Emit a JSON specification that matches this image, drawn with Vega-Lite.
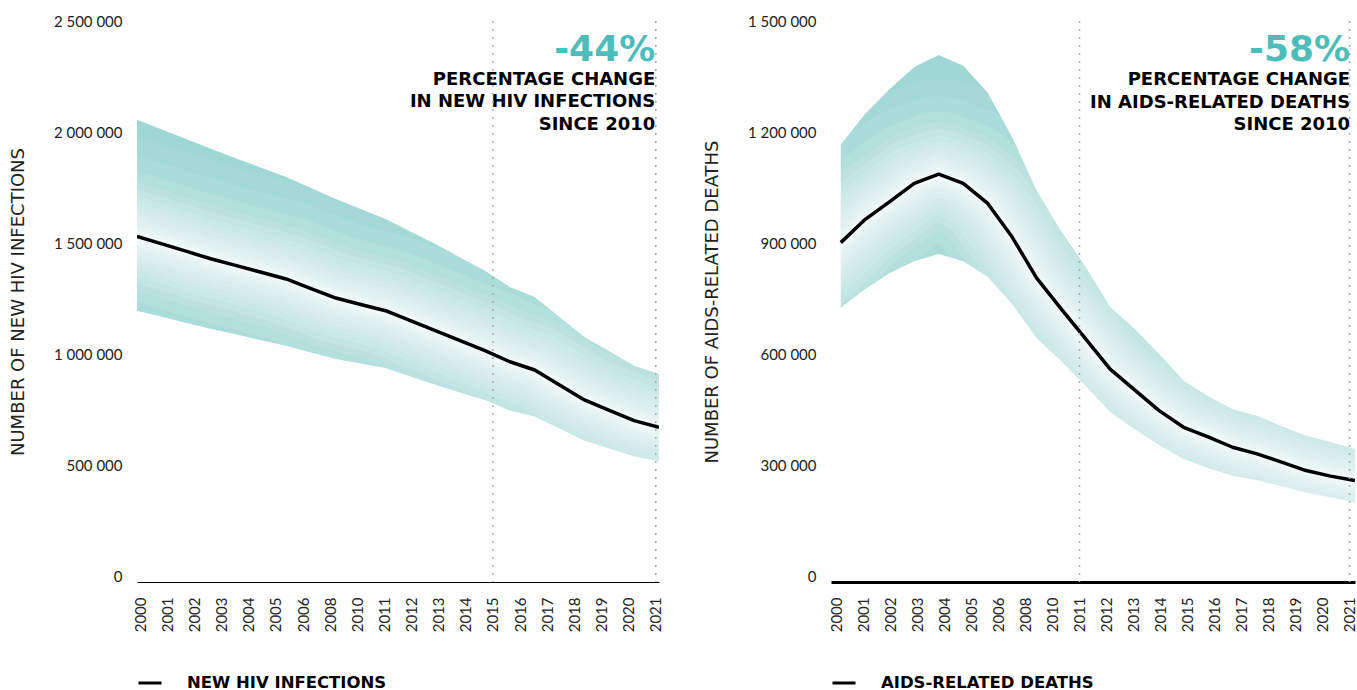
{
  "$schema": "https://vega.github.io/schema/vega-lite/v6.json",
  "padding": {"left": 9, "top": 14, "right": 0, "bottom": 0},
  "background": "white",
  "config": {
    "locale": {"number": {"decimal": ".", "thousands": " ", "grouping": [3], "currency": ["", ""]}},
    "view": {"stroke": null},
    "axis": {"labelFont": "Lato", "labelFontSize": 15, "labelColor": "#222", "titleFont": "DejaVu Sans", "titleFontWeight": "normal", "titleFontSize": 18, "titleColor": "#222", "grid": false, "ticks": false},
    "concat": {"spacing": 39}
  },
  "datasets": {
    "hiv": [
      {"year": 2000, "mid": 1530000, "low": 1195000, "high": 2055000, "series": "NEW HIV INFECTIONS"},
      {"year": 2001, "mid": 1496000, "low": 1168000, "high": 2011000, "series": "NEW HIV INFECTIONS"},
      {"year": 2002, "mid": 1462000, "low": 1140000, "high": 1967000, "series": "NEW HIV INFECTIONS"},
      {"year": 2003, "mid": 1428000, "low": 1113000, "high": 1923000, "series": "NEW HIV INFECTIONS"},
      {"year": 2004, "mid": 1398000, "low": 1088000, "high": 1881000, "series": "NEW HIV INFECTIONS"},
      {"year": 2005, "mid": 1368000, "low": 1062000, "high": 1839000, "series": "NEW HIV INFECTIONS"},
      {"year": 2006, "mid": 1338000, "low": 1037000, "high": 1797000, "series": "NEW HIV INFECTIONS"},
      {"year": 2007, "mid": 1295000, "low": 1007000, "high": 1748000, "series": "NEW HIV INFECTIONS"},
      {"year": 2008, "mid": 1252000, "low": 977000, "high": 1698000, "series": "NEW HIV INFECTIONS"},
      {"year": 2009, "mid": 1223000, "low": 957000, "high": 1653000, "series": "NEW HIV INFECTIONS"},
      {"year": 2010, "mid": 1195000, "low": 937000, "high": 1608000, "series": "NEW HIV INFECTIONS"},
      {"year": 2011, "mid": 1150000, "low": 899000, "high": 1552000, "series": "NEW HIV INFECTIONS"},
      {"year": 2012, "mid": 1105000, "low": 861000, "high": 1495000, "series": "NEW HIV INFECTIONS"},
      {"year": 2013, "mid": 1060000, "low": 827000, "high": 1435000, "series": "NEW HIV INFECTIONS"},
      {"year": 2014, "mid": 1015000, "low": 793000, "high": 1375000, "series": "NEW HIV INFECTIONS"},
      {"year": 2015, "mid": 965000, "low": 745000, "high": 1302000, "series": "NEW HIV INFECTIONS"},
      {"year": 2016, "mid": 928000, "low": 719000, "high": 1257000, "series": "NEW HIV INFECTIONS"},
      {"year": 2017, "mid": 860000, "low": 664000, "high": 1167000, "series": "NEW HIV INFECTIONS"},
      {"year": 2018, "mid": 793000, "low": 609000, "high": 1077000, "series": "NEW HIV INFECTIONS"},
      {"year": 2019, "mid": 746000, "low": 574000, "high": 1012000, "series": "NEW HIV INFECTIONS"},
      {"year": 2020, "mid": 700000, "low": 539000, "high": 947000, "series": "NEW HIV INFECTIONS"},
      {"year": 2021, "mid": 670000, "low": 517000, "high": 910000, "series": "NEW HIV INFECTIONS"}
    ],
    "deaths": [
      {"year": 2000, "mid": 901000, "low": 725000, "high": 1166000, "series": "AIDS-RELATED DEATHS"},
      {"year": 2001, "mid": 964000, "low": 776000, "high": 1249000, "series": "AIDS-RELATED DEATHS"},
      {"year": 2002, "mid": 1012000, "low": 819000, "high": 1316000, "series": "AIDS-RELATED DEATHS"},
      {"year": 2003, "mid": 1061000, "low": 851000, "high": 1376000, "series": "AIDS-RELATED DEATHS"},
      {"year": 2004, "mid": 1086000, "low": 870000, "high": 1408000, "series": "AIDS-RELATED DEATHS"},
      {"year": 2005, "mid": 1061000, "low": 851000, "high": 1379000, "series": "AIDS-RELATED DEATHS"},
      {"year": 2006, "mid": 1007000, "low": 809000, "high": 1306000, "series": "AIDS-RELATED DEATHS"},
      {"year": 2007, "mid": 916000, "low": 735000, "high": 1186000, "series": "AIDS-RELATED DEATHS"},
      {"year": 2008, "mid": 805000, "low": 643000, "high": 1041000, "series": "AIDS-RELATED DEATHS"},
      {"year": 2009, "mid": 722000, "low": 581000, "high": 932000, "series": "AIDS-RELATED DEATHS"},
      {"year": 2010, "mid": 641000, "low": 514000, "high": 835000, "series": "AIDS-RELATED DEATHS"},
      {"year": 2011, "mid": 559000, "low": 443000, "high": 727000, "series": "AIDS-RELATED DEATHS"},
      {"year": 2012, "mid": 503000, "low": 397000, "high": 668000, "series": "AIDS-RELATED DEATHS"},
      {"year": 2013, "mid": 447000, "low": 354000, "high": 600000, "series": "AIDS-RELATED DEATHS"},
      {"year": 2014, "mid": 402000, "low": 316000, "high": 528000, "series": "AIDS-RELATED DEATHS"},
      {"year": 2015, "mid": 376000, "low": 292000, "high": 486000, "series": "AIDS-RELATED DEATHS"},
      {"year": 2016, "mid": 348000, "low": 271000, "high": 451000, "series": "AIDS-RELATED DEATHS"},
      {"year": 2017, "mid": 330000, "low": 259000, "high": 433000, "series": "AIDS-RELATED DEATHS"},
      {"year": 2018, "mid": 308000, "low": 243000, "high": 405000, "series": "AIDS-RELATED DEATHS"},
      {"year": 2019, "mid": 285000, "low": 226000, "high": 379000, "series": "AIDS-RELATED DEATHS"},
      {"year": 2020, "mid": 270000, "low": 213000, "high": 362000, "series": "AIDS-RELATED DEATHS"},
      {"year": 2021, "mid": 258000, "low": 199000, "high": 343000, "series": "AIDS-RELATED DEATHS"}
    ]
  },
  "hconcat": [
    {
      "width": 522,
      "height": 561,
      "layer": [
        {
          "data": {"name": "hiv"},
          "layer": [
            {
              "mark": {"type": "area", "color": "#9fd7d5", "opacity": 1},
              "encoding": {
                "x": {"field": "year", "type": "quantitative", "scale": {"domain": [2000, 2021], "nice": false, "zero": false}, "axis": null},
                "y": {"field": "low", "type": "quantitative", "title": "NUMBER OF NEW HIV INFECTIONS", "scale": {"domain": [-27000, 2500000], "nice": false, "zero": false}, "axis": {"values": [0, 500000, 1000000, 1500000, 2000000, 2500000], "format": ",d", "domain": false, "labelPadding": 15, "titlePadding": 26}},
                "y2": {"field": "high"}
              }
            },
            {"mark": {"type": "line", "color": "white", "strokeWidth": 190, "opacity": 0.06, "strokeJoin": "round", "strokeCap": "square", "clip": true}, "encoding": {"x": {"field": "year", "type": "quantitative"}, "y": {"field": "mid", "type": "quantitative", "title": "NUMBER OF NEW HIV INFECTIONS"}}},
            {"mark": {"type": "line", "color": "white", "strokeWidth": 155, "opacity": 0.08, "strokeJoin": "round", "strokeCap": "square", "clip": true}, "encoding": {"x": {"field": "year", "type": "quantitative"}, "y": {"field": "mid", "type": "quantitative", "title": "NUMBER OF NEW HIV INFECTIONS"}}},
            {"mark": {"type": "line", "color": "white", "strokeWidth": 125, "opacity": 0.1, "strokeJoin": "round", "strokeCap": "square", "clip": true}, "encoding": {"x": {"field": "year", "type": "quantitative"}, "y": {"field": "mid", "type": "quantitative", "title": "NUMBER OF NEW HIV INFECTIONS"}}},
            {"mark": {"type": "line", "color": "white", "strokeWidth": 104, "opacity": 0.11, "strokeJoin": "round", "strokeCap": "square", "clip": true}, "encoding": {"x": {"field": "year", "type": "quantitative"}, "y": {"field": "mid", "type": "quantitative", "title": "NUMBER OF NEW HIV INFECTIONS"}}},
            {"mark": {"type": "line", "color": "white", "strokeWidth": 90, "opacity": 0.12, "strokeJoin": "round", "strokeCap": "square", "clip": true}, "encoding": {"x": {"field": "year", "type": "quantitative"}, "y": {"field": "mid", "type": "quantitative", "title": "NUMBER OF NEW HIV INFECTIONS"}}},
            {"mark": {"type": "line", "color": "white", "strokeWidth": 77, "opacity": 0.12, "strokeJoin": "round", "strokeCap": "square", "clip": true}, "encoding": {"x": {"field": "year", "type": "quantitative"}, "y": {"field": "mid", "type": "quantitative", "title": "NUMBER OF NEW HIV INFECTIONS"}}},
            {"mark": {"type": "line", "color": "white", "strokeWidth": 65, "opacity": 0.12, "strokeJoin": "round", "strokeCap": "square", "clip": true}, "encoding": {"x": {"field": "year", "type": "quantitative"}, "y": {"field": "mid", "type": "quantitative", "title": "NUMBER OF NEW HIV INFECTIONS"}}},
            {"mark": {"type": "line", "color": "white", "strokeWidth": 54, "opacity": 0.12, "strokeJoin": "round", "strokeCap": "square", "clip": true}, "encoding": {"x": {"field": "year", "type": "quantitative"}, "y": {"field": "mid", "type": "quantitative", "title": "NUMBER OF NEW HIV INFECTIONS"}}},
            {"mark": {"type": "line", "color": "white", "strokeWidth": 44, "opacity": 0.12, "strokeJoin": "round", "strokeCap": "square", "clip": true}, "encoding": {"x": {"field": "year", "type": "quantitative"}, "y": {"field": "mid", "type": "quantitative", "title": "NUMBER OF NEW HIV INFECTIONS"}}},
            {"mark": {"type": "line", "color": "white", "strokeWidth": 35, "opacity": 0.13, "strokeJoin": "round", "strokeCap": "square", "clip": true}, "encoding": {"x": {"field": "year", "type": "quantitative"}, "y": {"field": "mid", "type": "quantitative", "title": "NUMBER OF NEW HIV INFECTIONS"}}},
            {"mark": {"type": "line", "color": "white", "strokeWidth": 27, "opacity": 0.14, "strokeJoin": "round", "strokeCap": "square", "clip": true}, "encoding": {"x": {"field": "year", "type": "quantitative"}, "y": {"field": "mid", "type": "quantitative", "title": "NUMBER OF NEW HIV INFECTIONS"}}},
            {"mark": {"type": "line", "color": "white", "strokeWidth": 20, "opacity": 0.16, "strokeJoin": "round", "strokeCap": "square", "clip": true}, "encoding": {"x": {"field": "year", "type": "quantitative"}, "y": {"field": "mid", "type": "quantitative", "title": "NUMBER OF NEW HIV INFECTIONS"}}},
            {"mark": {"type": "line", "color": "white", "strokeWidth": 14, "opacity": 0.2, "strokeJoin": "round", "strokeCap": "square", "clip": true}, "encoding": {"x": {"field": "year", "type": "quantitative"}, "y": {"field": "mid", "type": "quantitative", "title": "NUMBER OF NEW HIV INFECTIONS"}}},
            {"mark": {"type": "line", "color": "white", "strokeWidth": 9, "opacity": 0.3, "strokeJoin": "round", "strokeCap": "square", "clip": true}, "encoding": {"x": {"field": "year", "type": "quantitative"}, "y": {"field": "mid", "type": "quantitative", "title": "NUMBER OF NEW HIV INFECTIONS"}}},
            {
              "mark": {"type": "line", "strokeWidth": 3.5, "strokeJoin": "round", "clip": true},
              "encoding": {
                "x": {"field": "year", "type": "quantitative"},
                "y": {"field": "mid", "type": "quantitative", "title": "NUMBER OF NEW HIV INFECTIONS"},
                "color": {"field": "series", "type": "nominal", "scale": {"range": ["black"]}, "legend": {"orient": "bottom", "title": null, "symbolType": "stroke", "symbolStrokeWidth": 3, "symbolSize": 529, "symbolStrokeColor": "black", "labelFont": "DejaVu Sans", "labelFontWeight": "bold", "labelFontSize": 16.5, "labelColor": "black", "labelOffset": 24, "labelLimit": 0, "offset": 38, "padding": 0}}
              }
            },
            {
              "data": {"values": [{"t": "-44%"}]},
              "mark": {"type": "text", "align": "right", "baseline": "alphabetic", "font": "DejaVu Sans", "fontWeight": "bold", "fontSize": 36, "color": "#4dbdb9"},
              "encoding": {"x": {"datum": 2020.85, "type": "quantitative"}, "y": {"datum": 2320000, "type": "quantitative"}, "text": {"field": "t"}}
            },
            {
              "data": {"values": [{"a": "x"}]},
              "mark": {"type": "text", "align": "right", "baseline": "alphabetic", "font": "DejaVu Sans", "fontWeight": "bold", "fontSize": 18, "color": "black", "lineHeight": 22.5},
              "encoding": {"x": {"datum": 2020.85, "type": "quantitative"}, "y": {"datum": 2212000, "type": "quantitative"}, "text": {"value": ["PERCENTAGE CHANGE", "IN NEW HIV INFECTIONS", "SINCE 2010"]}}
            }
          ]
        },
        {
          "data": {"values": [{"label": "2015"}, {"label": "2021"}]},
          "mark": {"type": "rule", "color": "#aaaaaa", "strokeDash": [2, 6], "strokeWidth": 1.5},
          "encoding": {
            "x": {"field": "label", "type": "ordinal", "title": null, "scale": {"type": "point", "domain": ["2000", "2001", "2002", "2003", "2004", "2005", "2006", "2008", "2010", "2011", "2012", "2013", "2014", "2015", "2016", "2017", "2018", "2019", "2020", "2021"], "padding": 0.12}, "axis": {"orient": "bottom", "labelAngle": -90, "labelFont": "Lato", "labelFontSize": 15, "labelColor": "#222", "labelPadding": 15, "domain": true, "domainColor": "black", "domainWidth": 1, "ticks": false}}
          }
        }
      ],
      "resolve": {"scale": {"x": "independent"}}
    },
    {
      "width": 524,
      "height": 561,
      "layer": [
        {
          "data": {"name": "deaths"},
          "layer": [
            {
              "mark": {"type": "area", "color": "#9fd7d5", "opacity": 1},
              "encoding": {
                "x": {"field": "year", "type": "quantitative", "scale": {"domain": [1999.6, 2021], "nice": false, "zero": false}, "axis": null},
                "y": {"field": "low", "type": "quantitative", "title": "NUMBER OF AIDS-RELATED DEATHS", "scale": {"domain": [-16200, 1500000], "nice": false, "zero": false}, "axis": {"values": [0, 300000, 600000, 900000, 1200000, 1500000], "format": ",d", "domain": false, "labelPadding": 15, "titlePadding": 26}},
                "y2": {"field": "high"}
              }
            },
            {"mark": {"type": "line", "color": "white", "strokeWidth": 190, "opacity": 0.06, "strokeJoin": "round", "strokeCap": "square", "clip": true}, "encoding": {"x": {"field": "year", "type": "quantitative"}, "y": {"field": "mid", "type": "quantitative", "title": "NUMBER OF AIDS-RELATED DEATHS"}}},
            {"mark": {"type": "line", "color": "white", "strokeWidth": 155, "opacity": 0.08, "strokeJoin": "round", "strokeCap": "square", "clip": true}, "encoding": {"x": {"field": "year", "type": "quantitative"}, "y": {"field": "mid", "type": "quantitative", "title": "NUMBER OF AIDS-RELATED DEATHS"}}},
            {"mark": {"type": "line", "color": "white", "strokeWidth": 125, "opacity": 0.1, "strokeJoin": "round", "strokeCap": "square", "clip": true}, "encoding": {"x": {"field": "year", "type": "quantitative"}, "y": {"field": "mid", "type": "quantitative", "title": "NUMBER OF AIDS-RELATED DEATHS"}}},
            {"mark": {"type": "line", "color": "white", "strokeWidth": 104, "opacity": 0.11, "strokeJoin": "round", "strokeCap": "square", "clip": true}, "encoding": {"x": {"field": "year", "type": "quantitative"}, "y": {"field": "mid", "type": "quantitative", "title": "NUMBER OF AIDS-RELATED DEATHS"}}},
            {"mark": {"type": "line", "color": "white", "strokeWidth": 90, "opacity": 0.12, "strokeJoin": "round", "strokeCap": "square", "clip": true}, "encoding": {"x": {"field": "year", "type": "quantitative"}, "y": {"field": "mid", "type": "quantitative", "title": "NUMBER OF AIDS-RELATED DEATHS"}}},
            {"mark": {"type": "line", "color": "white", "strokeWidth": 77, "opacity": 0.12, "strokeJoin": "round", "strokeCap": "square", "clip": true}, "encoding": {"x": {"field": "year", "type": "quantitative"}, "y": {"field": "mid", "type": "quantitative", "title": "NUMBER OF AIDS-RELATED DEATHS"}}},
            {"mark": {"type": "line", "color": "white", "strokeWidth": 65, "opacity": 0.12, "strokeJoin": "round", "strokeCap": "square", "clip": true}, "encoding": {"x": {"field": "year", "type": "quantitative"}, "y": {"field": "mid", "type": "quantitative", "title": "NUMBER OF AIDS-RELATED DEATHS"}}},
            {"mark": {"type": "line", "color": "white", "strokeWidth": 54, "opacity": 0.12, "strokeJoin": "round", "strokeCap": "square", "clip": true}, "encoding": {"x": {"field": "year", "type": "quantitative"}, "y": {"field": "mid", "type": "quantitative", "title": "NUMBER OF AIDS-RELATED DEATHS"}}},
            {"mark": {"type": "line", "color": "white", "strokeWidth": 44, "opacity": 0.12, "strokeJoin": "round", "strokeCap": "square", "clip": true}, "encoding": {"x": {"field": "year", "type": "quantitative"}, "y": {"field": "mid", "type": "quantitative", "title": "NUMBER OF AIDS-RELATED DEATHS"}}},
            {"mark": {"type": "line", "color": "white", "strokeWidth": 35, "opacity": 0.13, "strokeJoin": "round", "strokeCap": "square", "clip": true}, "encoding": {"x": {"field": "year", "type": "quantitative"}, "y": {"field": "mid", "type": "quantitative", "title": "NUMBER OF AIDS-RELATED DEATHS"}}},
            {"mark": {"type": "line", "color": "white", "strokeWidth": 27, "opacity": 0.14, "strokeJoin": "round", "strokeCap": "square", "clip": true}, "encoding": {"x": {"field": "year", "type": "quantitative"}, "y": {"field": "mid", "type": "quantitative", "title": "NUMBER OF AIDS-RELATED DEATHS"}}},
            {"mark": {"type": "line", "color": "white", "strokeWidth": 20, "opacity": 0.16, "strokeJoin": "round", "strokeCap": "square", "clip": true}, "encoding": {"x": {"field": "year", "type": "quantitative"}, "y": {"field": "mid", "type": "quantitative", "title": "NUMBER OF AIDS-RELATED DEATHS"}}},
            {"mark": {"type": "line", "color": "white", "strokeWidth": 14, "opacity": 0.2, "strokeJoin": "round", "strokeCap": "square", "clip": true}, "encoding": {"x": {"field": "year", "type": "quantitative"}, "y": {"field": "mid", "type": "quantitative", "title": "NUMBER OF AIDS-RELATED DEATHS"}}},
            {"mark": {"type": "line", "color": "white", "strokeWidth": 9, "opacity": 0.3, "strokeJoin": "round", "strokeCap": "square", "clip": true}, "encoding": {"x": {"field": "year", "type": "quantitative"}, "y": {"field": "mid", "type": "quantitative", "title": "NUMBER OF AIDS-RELATED DEATHS"}}},
            {
              "mark": {"type": "line", "strokeWidth": 3.5, "strokeJoin": "round", "clip": true},
              "encoding": {
                "x": {"field": "year", "type": "quantitative"},
                "y": {"field": "mid", "type": "quantitative", "title": "NUMBER OF AIDS-RELATED DEATHS"},
                "color": {"field": "series", "type": "nominal", "scale": {"range": ["black"]}, "legend": {"orient": "bottom", "title": null, "symbolType": "stroke", "symbolStrokeWidth": 3, "symbolSize": 529, "symbolStrokeColor": "black", "labelFont": "DejaVu Sans", "labelFontWeight": "bold", "labelFontSize": 16.5, "labelColor": "black", "labelOffset": 24, "labelLimit": 0, "offset": 38, "padding": 0}}
              }
            },
            {
              "data": {"values": [{"t": "-58%"}]},
              "mark": {"type": "text", "align": "right", "baseline": "alphabetic", "font": "DejaVu Sans", "fontWeight": "bold", "fontSize": 36, "color": "#4dbdb9"},
              "encoding": {"x": {"datum": 2020.8, "type": "quantitative"}, "y": {"datum": 1392000, "type": "quantitative"}, "text": {"field": "t"}}
            },
            {
              "data": {"values": [{"a": "x"}]},
              "mark": {"type": "text", "align": "right", "baseline": "alphabetic", "font": "DejaVu Sans", "fontWeight": "bold", "fontSize": 18, "color": "black", "lineHeight": 22.5},
              "encoding": {"x": {"datum": 2020.8, "type": "quantitative"}, "y": {"datum": 1327000, "type": "quantitative"}, "text": {"value": ["PERCENTAGE CHANGE", "IN AIDS-RELATED DEATHS", "SINCE 2010"]}}
            }
          ]
        },
        {
          "data": {"values": [{"label": "2011"}, {"label": "2021"}]},
          "mark": {"type": "rule", "color": "#aaaaaa", "strokeDash": [2, 6], "strokeWidth": 1.5},
          "encoding": {
            "x": {"field": "label", "type": "ordinal", "title": null, "scale": {"type": "point", "domain": ["2000", "2001", "2002", "2003", "2004", "2005", "2006", "2008", "2010", "2011", "2012", "2013", "2014", "2015", "2016", "2017", "2018", "2019", "2020", "2021"], "padding": 0.2}, "axis": {"orient": "bottom", "labelAngle": -90, "labelFont": "Lato", "labelFontSize": 15, "labelColor": "#222", "labelPadding": 15, "domain": true, "domainColor": "black", "domainWidth": 3, "ticks": false}}
          }
        }
      ],
      "resolve": {"scale": {"x": "independent"}}
    }
  ],
  "resolve": {"scale": {"y": "independent", "color": "independent"}, "legend": {"color": "independent"}}
}
